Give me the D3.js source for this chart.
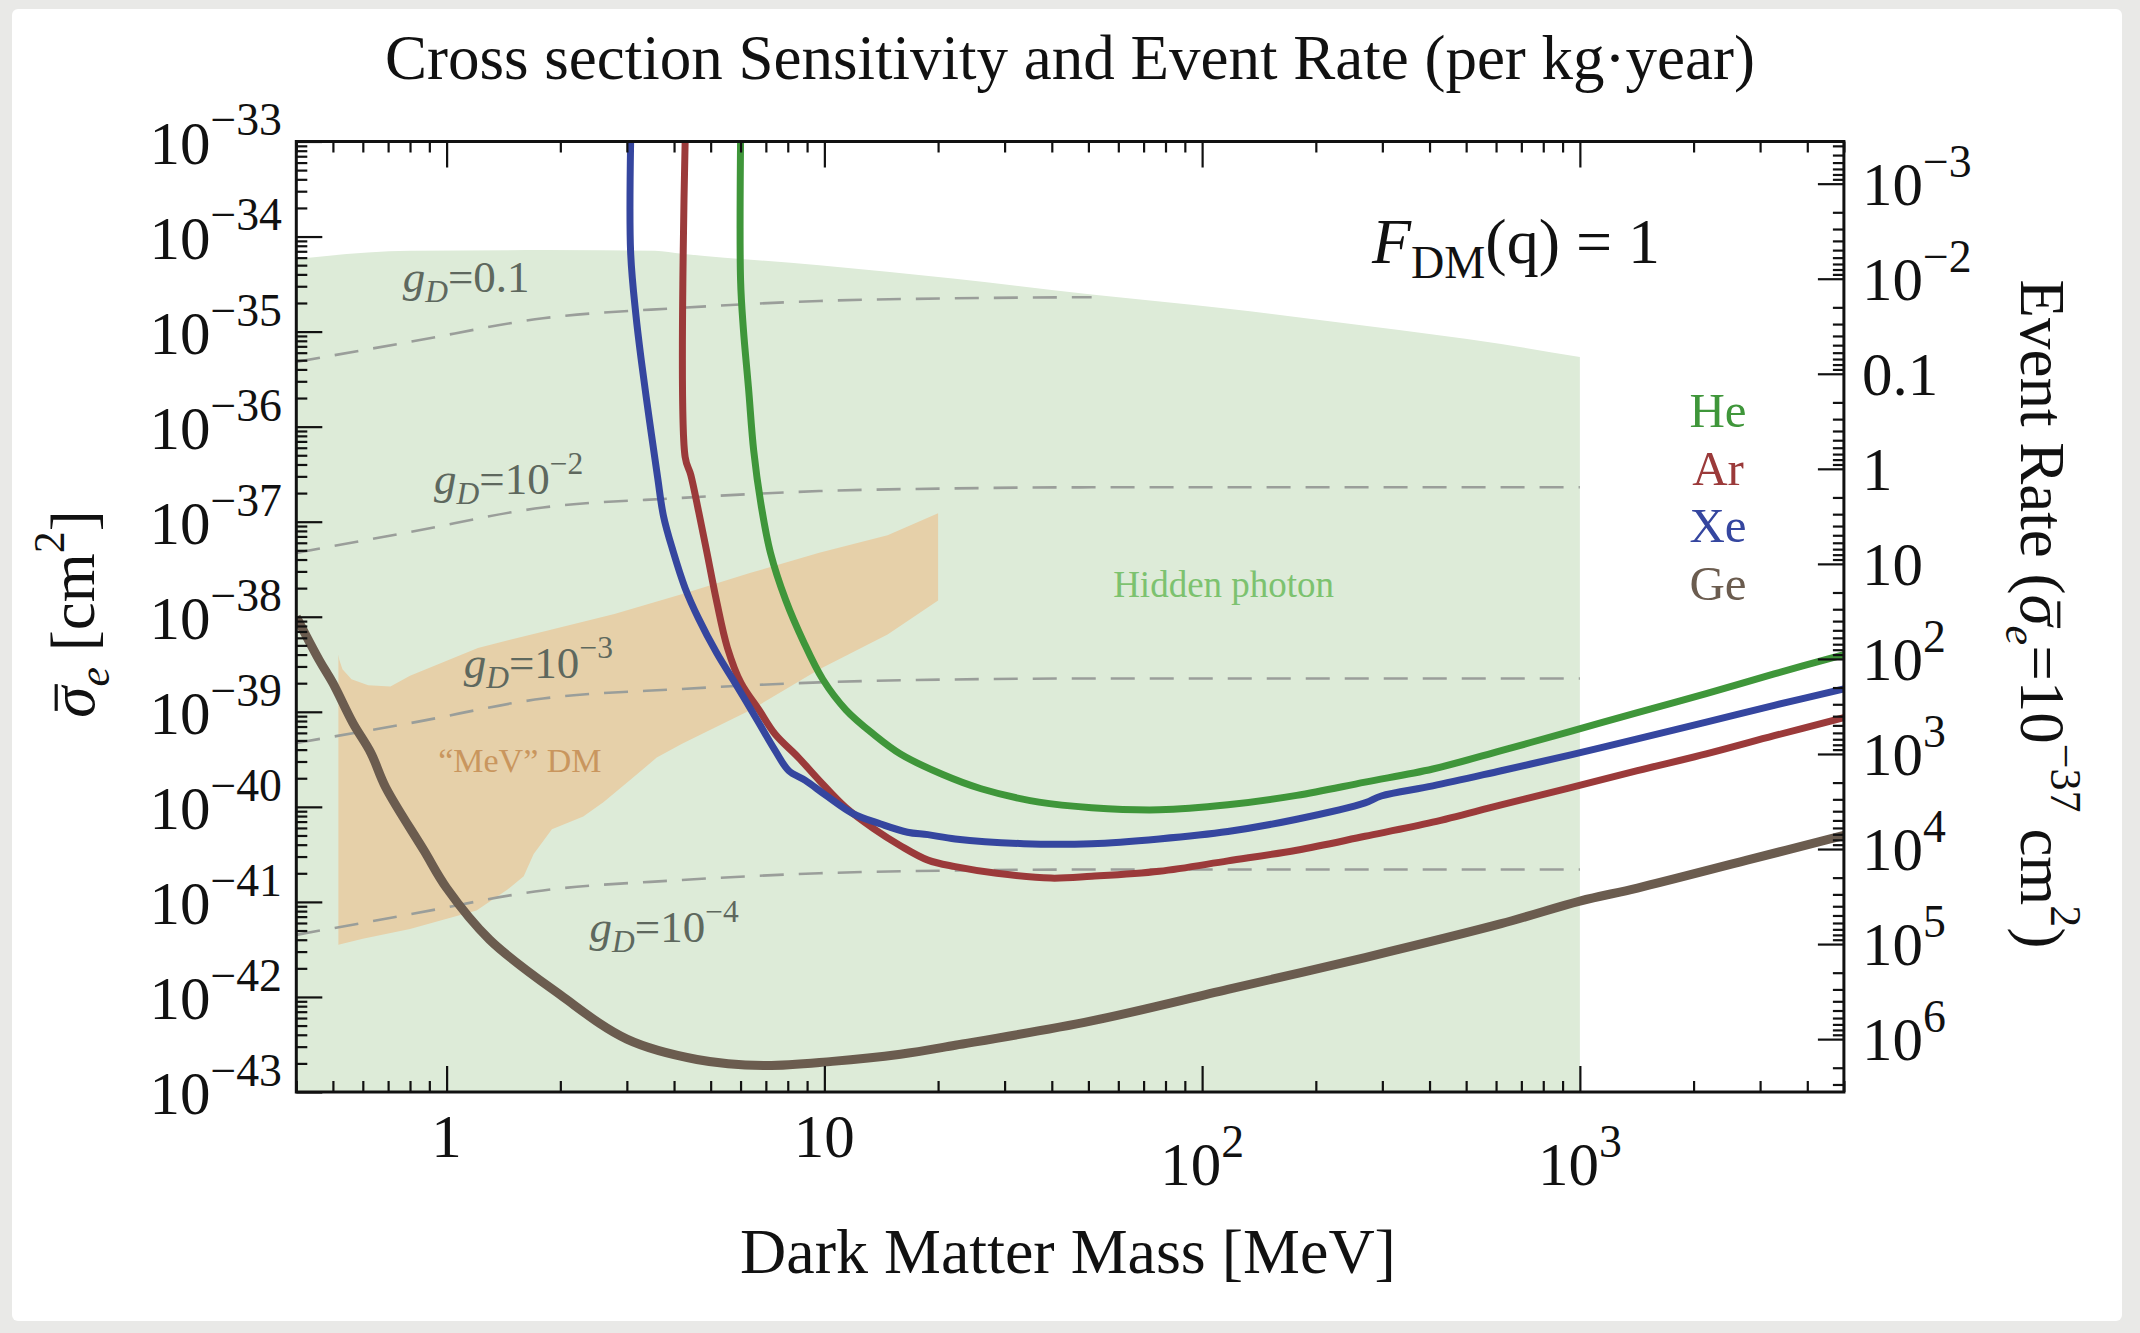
<!DOCTYPE html>
<html>
<head>
<meta charset="utf-8">
<script src="https://cdn.jsdelivr.net/npm/d3@7"></script>
<style>
  html, body { margin: 0; padding: 0; background: #e9e9e7; }
  svg { display: block; }
  text { font-family: "Liberation Serif", "Times New Roman", serif; }
</style>
</head>
<body>
<svg id="chart" width="2140" height="1333"></svg>
<script>
// ---------------- data ----------------
// dark matter mass in MeV, cross section in cm^2

const heMass  = [6.0, 6.0, 6.1, 6.3, 6.5, 6.8, 7.2, 7.9, 8.8, 9.9, 11.4, 13.5, 15.9, 20.5, 26, 37, 51, 77, 117, 178, 270, 408, 619, 940, 1420, 2160, 3270, 5000];
const heSigma = [1e-33, 3.5e-35, 1.1e-35, 2.5e-36, 5.6e-37, 1.5e-37, 4.7e-38, 1.5e-38, 5.5e-39, 2.2e-39, 1.05e-39, 5.8e-40, 3.6e-40, 2.2e-40, 1.55e-40, 1.12e-40, 9.8e-41, 9.3e-41, 1.05e-40, 1.32e-40, 1.82e-40, 2.5e-40, 3.9e-40, 6.2e-40, 9.8e-40, 1.55e-39, 2.5e-39, 4.0e-39];

const arMass  = [4.28, 4.28, 4.43, 4.65, 4.89, 5.18, 5.54, 6.02, 6.71, 7.41, 8.54, 9.69, 11.4, 13.5, 15.9, 18.8, 22.2, 28.6, 39.8, 51, 77, 117, 178, 270, 408, 619, 940, 1420, 2160, 3270, 5000];
const arSigma = [1e-33, 4.8e-37, 3.1e-37, 1.26e-37, 4.7e-38, 1.48e-38, 4.7e-39, 2.0e-39, 1.05e-39, 5.8e-40, 3.3e-40, 1.9e-40, 9.8e-41, 5.9e-41, 3.9e-41, 2.75e-41, 2.35e-41, 2.0e-41, 1.78e-41, 1.86e-41, 2.1e-41, 2.7e-41, 3.5e-41, 4.9e-41, 6.9e-41, 1.05e-40, 1.58e-40, 2.4e-40, 3.6e-40, 5.6e-40, 8.7e-40];

const xeMass  = [3.07, 3.07, 3.17, 3.28, 3.45, 3.62, 3.75, 3.97, 4.28, 4.65, 5.18, 5.87, 6.65, 7.41, 8.05, 8.9, 10.1, 11.9, 14.1, 16.6, 18.8, 22.2, 33.7, 51, 77, 117, 178, 270, 298, 408, 619, 940, 1420, 2160, 3270, 5000];
const xeSigma = [1e-33, 6.8e-35, 1.5e-35, 4.8e-36, 1.1e-36, 2.9e-37, 1.15e-37, 5.0e-38, 2.0e-38, 9.5e-39, 4.2e-39, 1.86e-39, 8.1e-40, 3.9e-40, 2.4e-40, 1.9e-40, 1.32e-40, 8.5e-41, 6.6e-41, 5.4e-41, 5.1e-41, 4.6e-41, 4.1e-41, 4.1e-41, 4.6e-41, 5.5e-41, 7.4e-41, 1.1e-40, 1.3e-40, 1.66e-40, 2.4e-40, 3.5e-40, 5.2e-40, 7.8e-40, 1.17e-39, 1.74e-39];

const geMass  = [0.4, 0.46, 0.5, 0.565, 0.63, 0.69, 0.87, 1.0, 1.3, 2.0, 3.0, 4.6, 6.9, 10.5, 15.9, 22.2, 51, 117, 270, 619, 1000, 1420, 2770, 5000];
const geSigma = [1.0e-38, 3.5e-39, 2.0e-39, 7.6e-40, 3.7e-40, 1.6e-40, 3.5e-41, 1.4e-41, 4.0e-42, 1.05e-42, 3.6e-43, 2.2e-43, 1.9e-43, 2.1e-43, 2.5e-43, 3.1e-43, 5.6e-43, 1.2e-42, 2.6e-42, 5.9e-42, 1.02e-41, 1.4e-41, 2.75e-41, 5.0e-41];

// hidden photon region: upper edge, filled down to the bottom of the frame
const hpMass  = [0.4, 0.8, 1.83, 3.56, 4.2, 9.7, 22.2, 51, 117, 270, 619, 1000];
const hpSigma = [5.8e-35, 7.1e-35, 7.2e-35, 7.1e-35, 6.6e-35, 5.0e-35, 3.6e-35, 2.45e-35, 1.74e-35, 1.15e-35, 7.4e-36, 5.4e-36];

// "MeV" DM band: upper and lower edges
const mevUpperMass  = [0.517, 0.52, 0.53, 0.56, 0.62, 0.71, 0.8, 1.21, 1.83, 2.78, 4.21, 6.38, 9.69, 14.7, 20];
const mevUpperSigma = [4.0e-39, 3.5e-39, 2.8e-39, 2.2e-39, 1.9e-39, 1.85e-39, 2.4e-39, 4.7e-39, 7.1e-39, 1.07e-38, 1.74e-38, 2.9e-38, 4.7e-38, 7.2e-38, 1.23e-37];
const mevLowerMass  = [20, 14.7, 9.7, 6.4, 4.2, 3.6, 3.1, 2.6, 2.3, 1.9, 1.7, 1.6, 1.45, 1.2, 0.8, 0.6, 0.517];
const mevLowerSigma = [1.48e-38, 6.5e-39, 2.8e-39, 1.05e-39, 4.6e-40, 3.3e-40, 2.0e-40, 1.12e-40, 7.9e-41, 5.8e-41, 3.2e-41, 1.86e-41, 1.35e-41, 8.1e-42, 5.2e-42, 4.1e-42, 3.55e-42];

// dark photon coupling contours
const gdMass     = [0.4, 0.8, 1.8, 4.2, 9.7, 22, 51, 1000];
const gd1Sigma   = [4.8e-36, 7.8e-36, 1.38e-35, 1.78e-35, 2.1e-35, 2.24e-35, 2.3e-35];      // g_D = 0.1 (ends at 51 MeV)
const gd2Sigma   = [4.7e-38, 7.8e-38, 1.41e-37, 1.78e-37, 2.1e-37, 2.24e-37, 2.3e-37, 2.3e-37];
const gd3Sigma   = [4.7e-40, 7.6e-40, 1.38e-39, 1.74e-39, 2.04e-39, 2.19e-39, 2.24e-39, 2.24e-39];
const gd4Sigma   = [4.5e-42, 7.4e-42, 1.32e-41, 1.7e-41, 2.0e-41, 2.14e-41, 2.19e-41, 2.19e-41];

// axis ticks
const massTicks       = [1, 10, 100, 1000];
const massTickLabels  = [["1", ""], ["10", ""], ["10", "2"], ["10", "3"]];
const sigmaTicks      = [1e-33, 1e-34, 1e-35, 1e-36, 1e-37, 1e-38, 1e-39, 1e-40, 1e-41, 1e-42, 1e-43];
const sigmaTickLabels = [["10", "\u221233"], ["10", "\u221234"], ["10", "\u221235"], ["10", "\u221236"], ["10", "\u221237"], ["10", "\u221238"], ["10", "\u221239"], ["10", "\u221240"], ["10", "\u221241"], ["10", "\u221242"], ["10", "\u221243"]];
const rateTicks       = [1e-3, 1e-2, 0.1, 1, 10, 100, 1e3, 1e4, 1e5, 1e6];
const rateTickLabels  = [["10", "\u22123"], ["10", "\u22122"], ["0.1", ""], ["1", ""], ["10", ""], ["10", "2"], ["10", "3"], ["10", "4"], ["10", "5"], ["10", "6"]];
// events per kg·year that define the limit curves; rate at 1e-37 cm^2 = events * 1e-37 / sigma
const limitEvents = 3.6;

const legendNames  = ["He", "Ar", "Xe", "Ge"];
const legendColors = ["#3f963a", "#9b3a3a", "#35469f", "#6b5c4f"];

// ---------------- drawing ----------------
const svg = d3.select("#chart");
const W = 2140, H = 1333;
const frame = { left: 296.3, right: 1843.9, top: 141.5, bottom: 1092 };

const x = d3.scaleLog().domain([0.4, 5000]).range([frame.left, frame.right]);
const y = d3.scaleLog().domain([1e-43, 1e-33]).range([frame.bottom, frame.top]);
const yRate = d3.scaleLog()
  .domain([limitEvents * 1e-37 / 1e-33, limitEvents * 1e-37 / 1e-43])
  .range([frame.top, frame.bottom]);

svg.append("rect").attr("width", W).attr("height", H).attr("fill", "#e9e9e7");
svg.append("rect").attr("x", 12).attr("y", 9).attr("width", W - 30).attr("height", H - 21)
  .attr("rx", 6).attr("fill", "#ffffff");

svg.append("clipPath").attr("id", "plotClip").append("rect")
  .attr("x", frame.left).attr("y", frame.top)
  .attr("width", frame.right - frame.left).attr("height", frame.bottom - frame.top);

const plot = svg.append("g").attr("clip-path", "url(#plotClip)");
const zip = (ms, ss) => ms.map((m, i) => [m, ss[i]]);

// hidden photon region
const hpArea = d3.area()
  .x(d => x(d[0])).y0(y(1e-43)).y1(d => y(d[1]))
  .curve(d3.curveMonotoneX);
plot.append("path").datum(zip(hpMass, hpSigma))
  .attr("d", hpArea).attr("fill", "#ddebd8");

// "MeV" DM band
const band = zip(mevUpperMass, mevUpperSigma).concat(zip(mevLowerMass, mevLowerSigma));
plot.append("path").datum(band)
  .attr("d", d3.line().x(d => x(d[0])).y(d => y(d[1])).curve(d3.curveLinearClosed))
  .attr("fill", "#e6d0a9");

// g_D contours
const dashLine = d3.line().x(d => x(d[0])).y(d => y(d[1])).curve(d3.curveMonotoneX);
[gd1Sigma, gd2Sigma, gd3Sigma, gd4Sigma].forEach(s => {
  plot.append("path").datum(zip(gdMass.slice(0, s.length), s))
    .attr("d", dashLine).attr("fill", "none")
    .attr("stroke", "#9a9e9a").attr("stroke-width", 2.6)
    .attr("stroke-dasharray", "24,15");
});

// limit curves
const curve = d3.line().x(d => x(d[0])).y(d => y(d[1])).curve(d3.curveCatmullRom.alpha(0.5));
const series = [
  [geMass, geSigma, legendColors[3], 9],
  [heMass, heSigma, legendColors[0], 7],
  [arMass, arSigma, legendColors[1], 7],
  [xeMass, xeSigma, legendColors[2], 7]
];
series.forEach(([m, s, c, w]) => {
  plot.append("path").datum(zip(m, s))
    .attr("d", curve).attr("fill", "none")
    .attr("stroke", c).attr("stroke-width", w)
    .attr("stroke-linejoin", "round").attr("stroke-linecap", "butt");
});

// ---------------- axes ----------------
function minorsLog(lo, hi) {
  const out = [];
  for (let e = Math.floor(Math.log10(lo)); e <= Math.ceil(Math.log10(hi)); e++) {
    for (let k = 2; k <= 9; k++) {
      const v = k * Math.pow(10, e);
      if (v >= lo * 0.999 && v <= hi * 1.001) out.push(v);
    }
  }
  return out;
}
const major = 26, minor = 11;
function tickAxis(axisFn, scale, values, size, transform) {
  const g = svg.append("g").attr("transform", transform)
    .call(axisFn(scale).tickValues(values).tickSize(-size).tickFormat(""));
  g.select(".domain").remove();
  g.selectAll(".tick line").attr("stroke", "#111").attr("stroke-width", 2.2);
  return g;
}
tickAxis(d3.axisBottom, x, massTicks, major, `translate(0,${frame.bottom})`);
tickAxis(d3.axisBottom, x, minorsLog(0.4, 5000), minor, `translate(0,${frame.bottom})`);
tickAxis(d3.axisTop, x, massTicks, major, `translate(0,${frame.top})`);
tickAxis(d3.axisTop, x, minorsLog(0.4, 5000), minor, `translate(0,${frame.top})`);
tickAxis(d3.axisLeft, y, sigmaTicks, major, `translate(${frame.left},0)`);
tickAxis(d3.axisLeft, y, minorsLog(1e-43, 1e-33), minor, `translate(${frame.left},0)`);
tickAxis(d3.axisRight, yRate, rateTicks, major, `translate(${frame.right},0)`);
tickAxis(d3.axisRight, yRate, minorsLog(yRate.domain()[0], yRate.domain()[1]), minor, `translate(${frame.right},0)`);

svg.append("rect")
  .attr("x", frame.left).attr("y", frame.top)
  .attr("width", frame.right - frame.left).attr("height", frame.bottom - frame.top)
  .attr("fill", "none").attr("stroke", "#111").attr("stroke-width", 3);

// rich text: parts are {t, sup, sub, italic, bar}
function rich(parent, parts, o) {
  const g = parent.append("g");
  if (o.transform) g.attr("transform", o.transform);
  const fill = o.fill || "#111";
  const scriptScale = o.scriptScale || 0.7;
  const t = g.append("text")
    .attr("x", o.x || 0).attr("y", o.y || 0)
    .attr("font-size", o.size)
    .attr("text-anchor", o.anchor || "start")
    .attr("fill", fill);
  let shift = 0, idx = 0;
  const bars = [];
  parts.forEach(p => {
    const target = p.sup ? -o.size * (o.supRaise || 0.47) : p.sub ? o.size * (o.subDrop || 0.24) : 0;
    const ts = t.append("tspan").attr("dy", target - shift).text(p.t);
    const sz = (p.sup || p.sub) ? o.size * scriptScale : o.size;
    if (p.sup || p.sub) ts.attr("font-size", sz);
    if (p.italic) ts.attr("font-style", "italic");
    if (p.bar) bars.push({ idx, base: (o.y || 0) + target, size: sz });
    shift = target;
    idx += p.t.length;
  });
  // bar over a glyph, e.g. the averaged cross section symbol
  bars.forEach(b => {
    const e = t.node().getExtentOfChar(b.idx);
    const yb = b.base - b.size * 0.6;
    g.append("line")
      .attr("x1", e.x + e.width * 0.22).attr("x2", e.x + e.width * 1.08)
      .attr("y1", yb).attr("y2", yb)
      .attr("stroke", fill).attr("stroke-width", b.size * 0.05);
  });
  return t;
}

const labelSize = 61;
const tickOpts = { size: labelSize, scriptScale: 0.75, supRaise: 0.46 };
sigmaTicks.forEach((v, i) => {
  const [b, s] = sigmaTickLabels[i];
  rich(svg, [{ t: b }, { t: s, sup: true }], Object.assign({ x: 282, y: y(v) + 22, anchor: "end" }, tickOpts));
});
massTicks.forEach((v, i) => {
  const [b, s] = massTickLabels[i];
  if (s) rich(svg, [{ t: b }, { t: s, sup: true }], Object.assign({ x: x(v), y: 1185, anchor: "middle" }, tickOpts));
  else rich(svg, [{ t: b }], Object.assign({ x: x(v), y: 1157, anchor: "middle" }, tickOpts));
});
rateTicks.forEach((v, i) => {
  const [b, s] = rateTickLabels[i];
  const parts = s ? [{ t: b }, { t: s, sup: true }] : [{ t: b }];
  rich(svg, parts, Object.assign({ x: 1862, y: yRate(v) + 21 }, tickOpts));
});

// titles
rich(svg, [{ t: "Cross section Sensitivity and Event Rate (per kg\u00b7year)" }],
  { x: 1070, y: 79, size: 63, anchor: "middle" });
rich(svg, [{ t: "Dark Matter Mass [MeV]" }],
  { x: 1068, y: 1273, size: 64, anchor: "middle" });
rich(svg, [{ t: "\u03c3", italic: true, bar: true }, { t: "e", sub: true, italic: true }, { t: " [cm" }, { t: "2", sup: true }, { t: "]" }],
  { size: 63, anchor: "middle", transform: "translate(94,614) rotate(-90)" });
rich(svg, [{ t: "Event Rate (" }, { t: "\u03c3", italic: true, bar: true }, { t: "e", sub: true, italic: true },
  { t: "=10" }, { t: "\u221237", sup: true }, { t: " cm" }, { t: "2", sup: true }, { t: ")" }],
  { size: 63, anchor: "middle", transform: "translate(2021,614) rotate(90)" });

// in-plot annotations
rich(svg, [{ t: "F", italic: true }, { t: "DM", sub: true }, { t: "(q) = 1" }],
  { x: 1372, y: 263, size: 64, scriptScale: 0.72 });
legendNames.forEach((n, i) => {
  rich(svg, [{ t: n }], { x: 1718, y: 427 + i * 57.6, size: 49, anchor: "middle", fill: legendColors[i] });
});
rich(svg, [{ t: "Hidden photon" }], { x: x(114), y: y(1.6e-38), size: 37, anchor: "middle", fill: "#7cc26f" });
rich(svg, [{ t: "\u201cMeV\u201d DM" }], { x: x(0.95), y: y(2.3e-40), size: 34, fill: "#c9965e" });

const gdColor = "#5e685e";
const gdOpts = { size: 45, fill: gdColor, subDrop: 0.22, supRaise: 0.45 };
const gdLabel = sup => [{ t: "g", italic: true }, { t: "D", sub: true, italic: true }].concat(
  sup ? [{ t: "=10" }, { t: sup, sup: true }] : [{ t: "=0.1" }]);
rich(svg, gdLabel(""), Object.assign({ x: x(0.765), y: y(2.6e-35) }, gdOpts));
rich(svg, gdLabel("\u22122"), Object.assign({ x: x(0.926), y: y(1.95e-37) }, gdOpts));
rich(svg, gdLabel("\u22123"), Object.assign({ x: x(1.11), y: y(2.27e-39) }, gdOpts));
rich(svg, gdLabel("\u22124"), Object.assign({ x: x(2.39), y: y(3.8e-42) }, gdOpts));
</script>
</body>
</html>
